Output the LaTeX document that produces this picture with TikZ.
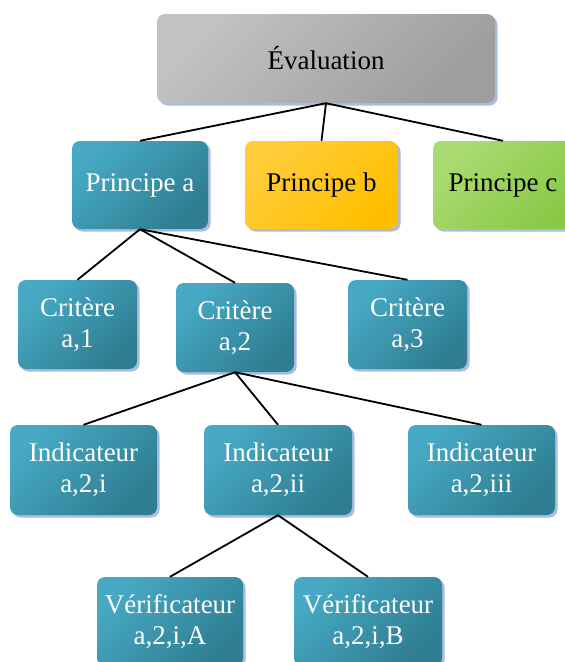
\documentclass[tikz,border=0pt]{standalone}
\usepackage{fontspec}
\setmainfont{Liberation Serif}
\usetikzlibrary{shadows}
\definecolor{tealA}{HTML}{47A9C4}
\definecolor{tealB}{HTML}{2E7D90}
\definecolor{grayA}{HTML}{C2C2C2}
\definecolor{grayB}{HTML}{9E9E9E}
\definecolor{yelA}{HTML}{FFCD3A}
\definecolor{yelB}{HTML}{FFBF00}
\definecolor{grnA}{HTML}{AADB72}
\definecolor{grnB}{HTML}{8AC947}
\definecolor{shadowblue}{HTML}{A9BCE4}
\begin{document}
\begin{tikzpicture}[x=1pt,y=-1pt,
  box/.style={rectangle, rounded corners=8pt, inner sep=0pt, align=center,
    font=\fontsize{27}{31}\selectfont,
    drop shadow={shadow xshift=2.5pt, shadow yshift=-2.5pt, fill=shadowblue, opacity=1}},
  tealbox/.style={box, top color=tealA, bottom color=tealB, shading angle=45, text=white},
  graybox/.style={box, top color=grayA, bottom color=grayB, shading angle=45, text=black},
  yelbox/.style={box, top color=yelA, bottom color=yelB, shading angle=45, text=black},
  grnbox/.style={box, top color=grnA, bottom color=grnB, shading angle=45, text=black},
  link/.style={draw=black, line width=1.8pt}]
\useasboundingbox (0,0) rectangle (565,662);
\fill[white] (0,0) rectangle (565,662);
% level 0
\node[graybox, minimum width=338pt, minimum height=89pt] (ev) at (326,58.5) {Évaluation};
% level 1
\node[tealbox, minimum width=136pt, minimum height=88pt] (pa) at (140,185) {Principe a};
\node[yelbox, minimum width=153pt, minimum height=88pt] (pb) at (321.5,185) {Principe b};
\node[grnbox, minimum width=140pt, minimum height=88pt] (pc) at (503,185) {Principe c};
% level 2
\node[tealbox, minimum width=119pt, minimum height=89pt] (c1) at (77.5,324.5) {Critère\\a,1};
\node[tealbox, minimum width=118pt, minimum height=89pt] (c2) at (235,327.5) {Critère\\a,2};
\node[tealbox, minimum width=119pt, minimum height=89pt] (c3) at (407.5,324.5) {Critère\\a,3};
% level 3
\node[tealbox, minimum width=147pt, minimum height=90pt] (i1) at (83.5,470) {Indicateur\\a,2,i};
\node[tealbox, minimum width=148pt, minimum height=90pt] (i2) at (278,470) {Indicateur\\a,2,ii};
\node[tealbox, minimum width=147pt, minimum height=90pt] (i3) at (481.5,470) {Indicateur\\a,2,iii};
% level 4
\node[tealbox, minimum width=146pt, minimum height=89pt] (v1) at (170,621.5) {Vérificateur\\a,2,i,A};
\node[tealbox, minimum width=148pt, minimum height=89pt] (v2) at (368,621.5) {Vérificateur\\a,2,i,B};
% connectors
\draw[link] (ev.south) -- (pa.north);
\draw[link] (ev.south) -- (pb.north);
\draw[link] (ev.south) -- (pc.north);
\draw[link] (pa.south) -- (c1.north);
\draw[link] (pa.south) -- (c2.north);
\draw[link] (pa.south) -- (c3.north);
\draw[link] (c2.south) -- (i1.north);
\draw[link] (c2.south) -- (i2.north);
\draw[link] (c2.south) -- (i3.north);
\draw[link] (i2.south) -- (v1.north);
\draw[link] (i2.south) -- (v2.north);
\end{tikzpicture}
\end{document}
